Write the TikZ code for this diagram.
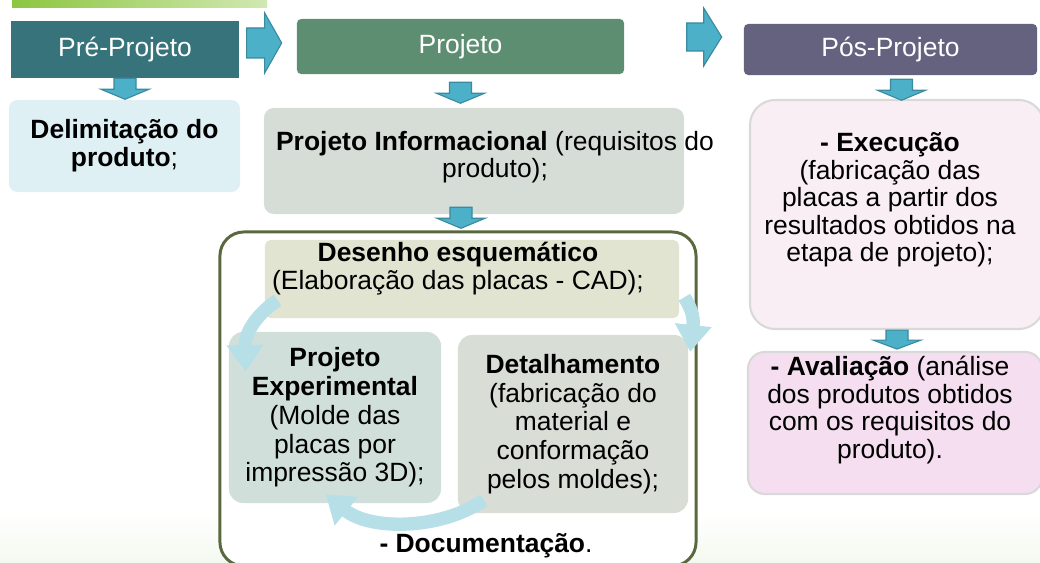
\documentclass[tikz,border=0pt]{standalone}
\usepackage{fontspec}
\setmainfont{Liberation Sans}
\usepackage{xcolor}
\usepackage{tikz}
\usetikzlibrary{arrows.meta,calc,positioning}

\definecolor{precol}{HTML}{37737B}
\definecolor{projcol}{HTML}{5E8E72}
\definecolor{poscol}{HTML}{64627E}
\definecolor{arrfill}{HTML}{4BB0C8}
\definecolor{arrline}{HTML}{3A8AA0}
\definecolor{delimcol}{HTML}{DFF0F4}
\definecolor{infcol}{HTML}{D6DDD6}
\definecolor{desecol}{HTML}{E0E4D0}
\definecolor{expcol}{HTML}{D1DFDB}
\definecolor{detcol}{HTML}{D8DDD6}
\definecolor{execcol}{HTML}{FAEEF5}
\definecolor{avalcol}{HTML}{F5DEF0}
\definecolor{boxline}{HTML}{D9D9D9}
\definecolor{framecol}{HTML}{59693D}
\definecolor{cyccol}{HTML}{B6DFE8}
\definecolor{topgreen}{HTML}{8CC63F}
\definecolor{bggreen}{HTML}{F3F9F0}

\tikzset{
  txt/.style={font=\fontsize{18.8}{19.5}\selectfont, align=center, inner sep=0pt},
  phasebox/.style={txt, text=white},
  stepbox/.style={txt},
  blockarr/.style={fill=arrfill, draw=arrline, line width=0.8pt},
  cyc/.style={draw=cyccol, line width=9.5pt, -{Triangle[width=25pt,length=19pt]}}
}

\begin{document}
\begin{tikzpicture}[x=0.025cm, y=-0.025cm]
     \useasboundingbox (0,0) rectangle (1040,563);
     \shade[top color=white, bottom color=bggreen] (0,512) rectangle (1040,563);
     \shade[left color=topgreen, right color=topgreen!40] (12,0) rectangle (267,8);

     \node[phasebox, fill=precol, minimum width=5.7cm, minimum height=1.425cm] (pre) at (125,49.5) {Pré-Projeto};
     \node[phasebox, fill=projcol, rounded corners=3pt, minimum width=8.175cm, minimum height=1.375cm] (proj) at (460.5,46.5) {Projeto};
     \node[phasebox, fill=poscol, rounded corners=3pt, minimum width=7.325cm, minimum height=1.275cm] (pos) at (890.5,49.5) {Pós-Projeto};

     \node[stepbox, fill=delimcol, rounded corners=6pt, minimum width=5.775cm, minimum height=2.3cm, font=\fontsize{18.8}{20}\selectfont] (delim) at (124.5,146) {\textbf{Delimitação do}\\\textbf{produto};};
     \node[stepbox, fill=infcol, rounded corners=7pt, minimum width=10.5cm, minimum height=2.65cm] (inf) at (474,161) {};
     \node[txt] (inftext) at (495,157) {\textbf{Projeto Informacional} (requisitos do\\produto);};

     \node[draw=framecol, line width=2.1pt, rounded corners=17pt, fill=white, minimum width=11.9cm, minimum height=8.35cm] (frame) at (458,399) {};
     \node[stepbox, fill=desecol, rounded corners=4pt, minimum width=10.35cm, minimum height=1.95cm] (dese) at (472,279) {};
     \node[txt, font=\fontsize{18.8}{20}\selectfont] (desetext) at (458,269) {\textbf{Desenho esquemático}\\(Elaboração das placas - CAD);};
     \node[stepbox, fill=expcol, rounded corners=10pt, minimum width=5.3cm, minimum height=4.275cm, font=\fontsize{18.8}{20.5}\selectfont] (exp) at (335,417.5) {\textbf{Projeto}\\\textbf{Experimental}\\(Molde das\\placas por\\impressão 3D);};
     \node[stepbox, fill=detcol, rounded corners=10pt, minimum width=5.75cm, minimum height=4.45cm, font=\fontsize{18.8}{20.5}\selectfont] (det) at (573,424) {\textbf{Detalhamento}\\(fabricação do\\material e\\conformação\\pelos moldes);};
     \node[txt] (doc) at (486,546) {\textbf{- Documentação}.};

     \node[stepbox, draw=boxline, line width=1.5pt, fill=execcol, rounded corners=18pt, minimum width=7.35cm, minimum height=5.725cm] (exec) at (897,214.5) {};
     \node[txt] (exectext) at (890,200) {\textbf{- Execução}\\(fabricação das\\placas a partir dos\\resultados obtidos na\\etapa de projeto);};
     \node[stepbox, draw=boxline, line width=1.5pt, fill=avalcol, rounded corners=12pt, minimum width=7.35cm, minimum height=3.55cm] (aval) at (895,423) {};
     \node[txt] (avaltext) at (890,410) {\textbf{- Avaliação} (análise\\dos produtos obtidos\\com os requisitos do\\produto).};

     \filldraw[blockarr, shift={(pre.south)}] (-11,0) -- (11,0) -- (11,11) -- (24,11) -- (0,21) -- (-24,11) -- (-11,11) -- cycle;
     \filldraw[blockarr, shift={($(proj.south)+(0,8)$)}] (-11,0) -- (11,0) -- (11,11) -- (24,11) -- (0,21) -- (-24,11) -- (-11,11) -- cycle;
     \filldraw[blockarr, shift={($(inf.south)+(-13,-7)$)}] (-11,0) -- (11,0) -- (11,11) -- (24,11) -- (0,21) -- (-24,11) -- (-11,11) -- cycle;
     \filldraw[blockarr, shift={($(pos.south)+(11,4)$)}] (-11,0) -- (11,0) -- (11,11) -- (24,11) -- (0,21) -- (-24,11) -- (-11,11) -- cycle;
     \filldraw[blockarr, shift={(exec.south)}] (-11,0) -- (11,0) -- (11,10) -- (24,10) -- (0,19) -- (-24,10) -- (-11,10) -- cycle;
     \filldraw[blockarr, shift={($(proj.west)+(-15,-3.5)$)}] (-35,-15) -- (-17,-15) -- (-17,-30) -- (0,0) -- (-17,30) -- (-17,15) -- (-35,15) -- cycle;
     \filldraw[blockarr, shift={($(pos.west)+(-22,-12.5)$)}] (-35,-14) -- (-18,-14) -- (-18,-29) -- (0,0) -- (-18,29) -- (-18,14) -- (-35,14) -- cycle;

     \draw[cyc] ($(dese.south west)+(13,-18)$) .. controls +(-16,10) and +(-1,-42) .. ($(exp.north west)+(17,40)$);
     \draw[cyc] ($(dese.south east)+(5,-21)$) .. controls +(5,8) and +(4,-37) .. ($(det.north east)+(2,17)$);
     \draw[cyc] ($(det.south west)+(26,-13)$) .. controls +(-44,30) and +(44,36) .. ($(exp.south west)+(97,-9)$);
\end{tikzpicture}
\end{document}
